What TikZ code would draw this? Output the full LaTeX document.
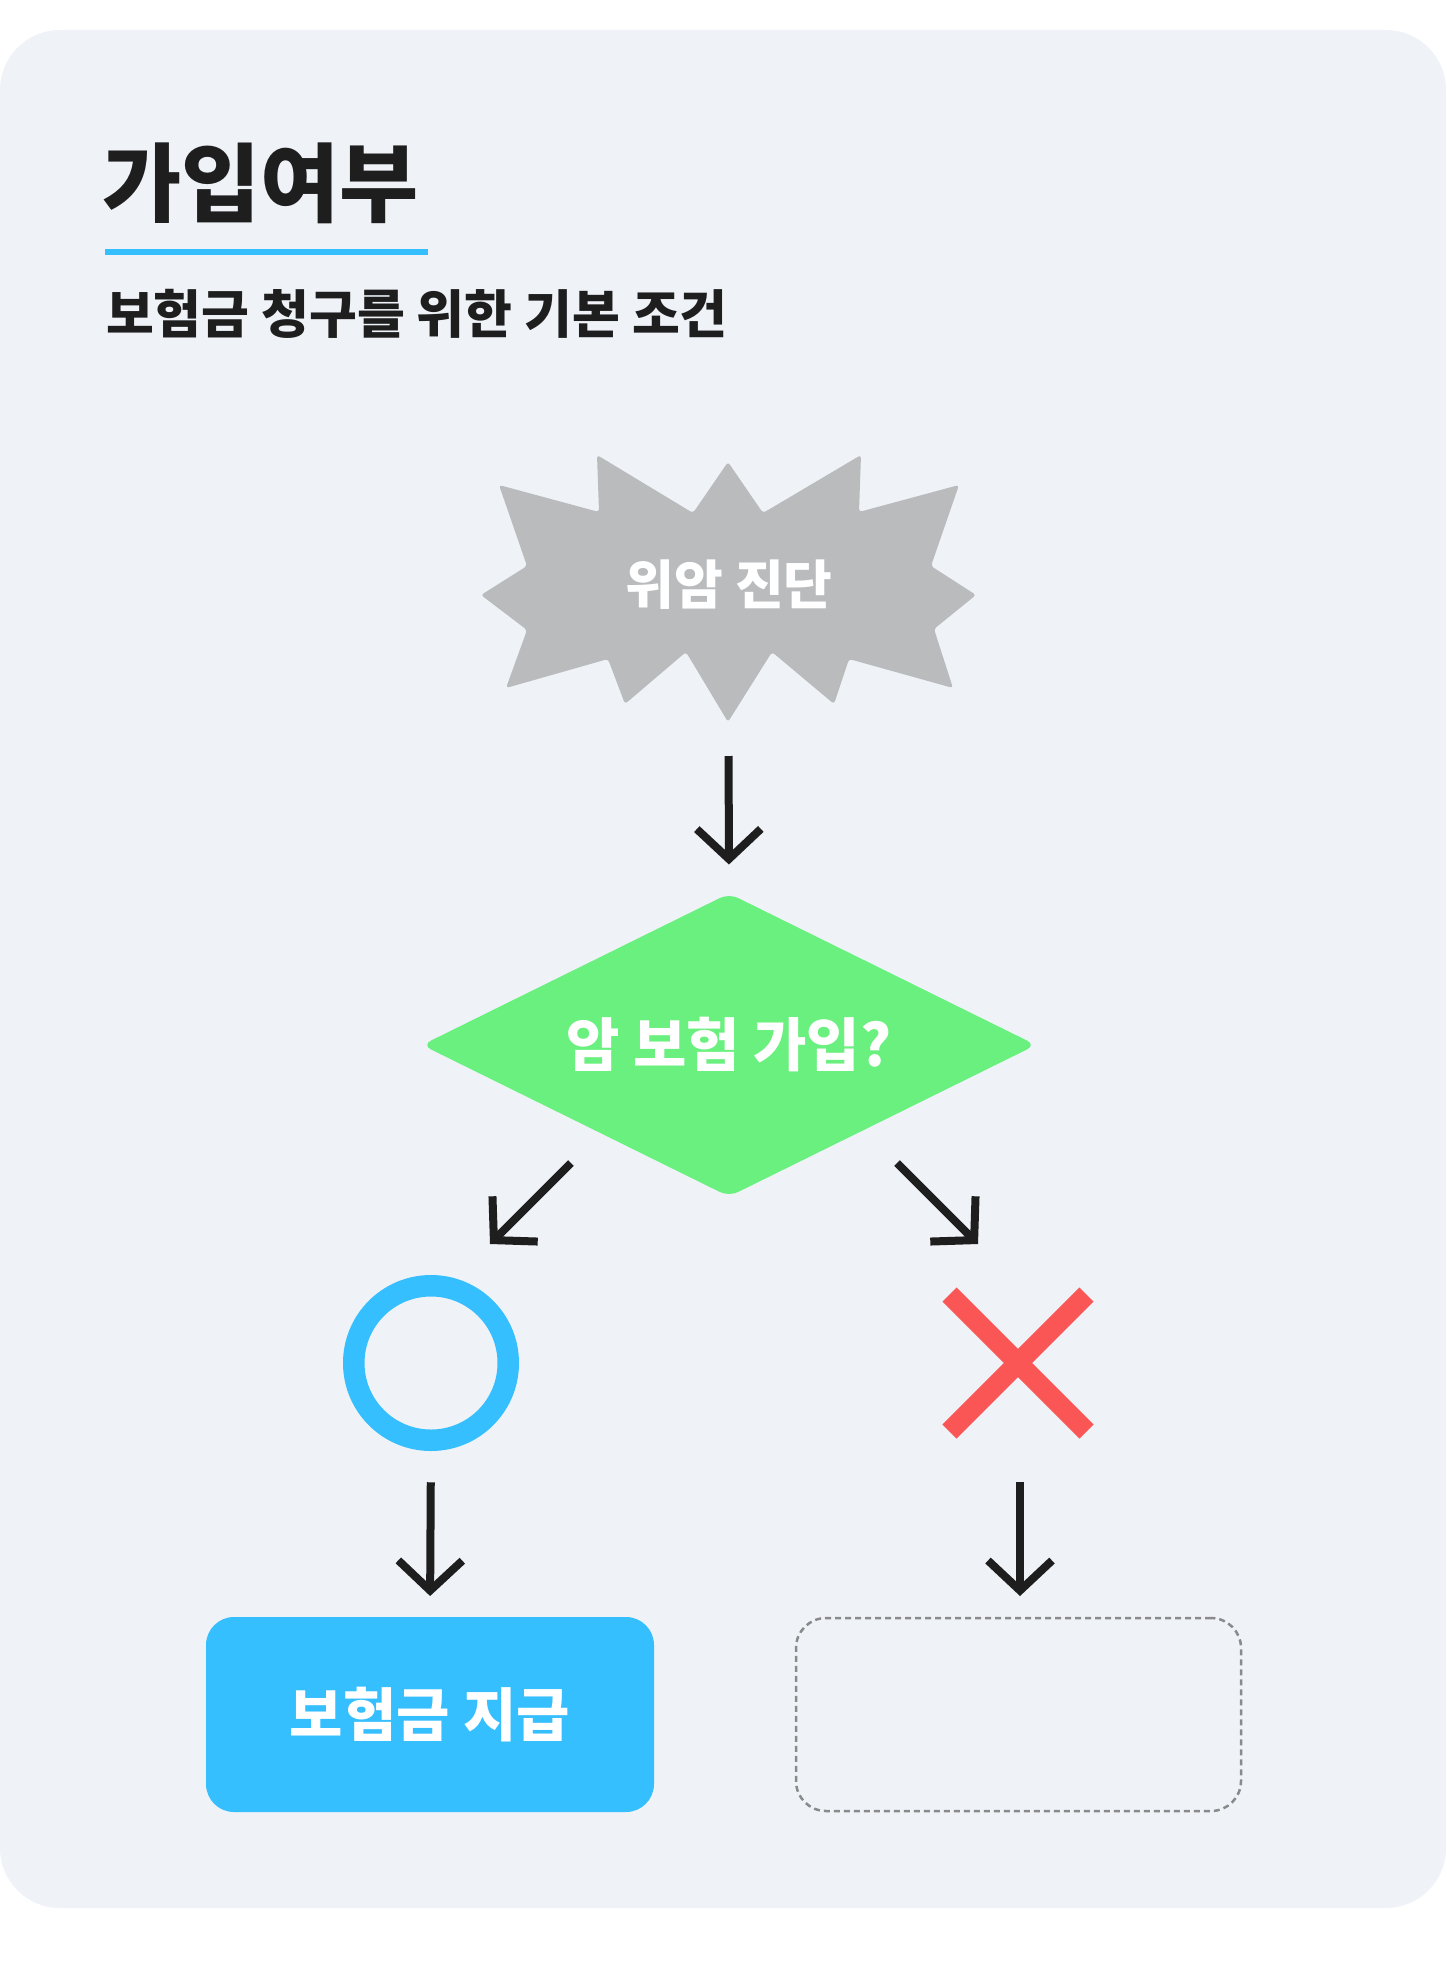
\documentclass[tikz,border=0pt]{standalone}
\usepackage{fontspec}
\usepackage{tikz}
\usetikzlibrary{shapes.geometric,arrows.meta,calc}
\newfontfamily\krfont{Noto Sans CJK KR}
\definecolor{cardbg}{RGB}{239,243,248}
\definecolor{inkblack}{RGB}{30,30,30}
\definecolor{skyblue}{RGB}{53,191,255}
\definecolor{burstgrey}{RGB}{185,187,189}
\definecolor{okgreen}{RGB}{106,240,127}
\definecolor{nored}{RGB}{250,86,86}
\definecolor{dashgrey}{RGB}{138,138,138}

\begin{document}
\begin{tikzpicture}[x=1pt,y=-1pt, every node/.style={inner sep=0pt,outer sep=0pt},
  ttl/.style={font=\krfont\bfseries\fontsize{86}{90}\selectfont,text=inkblack,anchor=west},
  sub/.style={font=\krfont\bfseries\fontsize{52}{58}\selectfont,text=inkblack,anchor=west},
  lbl/.style={font=\krfont\bfseries\fontsize{58}{64}\selectfont,text=white},
  burst/.style={minimum width=495pt,minimum height=267pt},
  ask/.style={diamond,aspect=2.03,fill=okgreen,minimum width=614pt,minimum height=303pt,
              rounded corners=10pt},
  ring/.style={circle,draw=skyblue,line width=21.5pt,minimum size=154.5pt},
  payout/.style={rectangle,fill=skyblue,rounded corners=28pt,minimum width=448pt,minimum height=195pt},
  empty/.style={rectangle,draw=dashgrey,line width=2.5pt,dash pattern=on 6pt off 4pt,
                rounded corners=30pt,minimum width=445pt,minimum height=193pt},
  cross/.style={nored,line width=20pt},
  ar/.style={-{Straight Barb[length=30pt,width=64pt]},inkblack,line width=8pt}]

\useasboundingbox (0,0) rectangle (1446,1983);
\fill[white] (0,0) rectangle (1446,1983);
\fill[cardbg,rounded corners=60pt] (0,30) rectangle (1446,1908);

\node[ttl] (title) at (102,183) {가입여부};
\draw[skyblue,line width=6pt] (105,252) -- (428,252);
\node[sub] (subtitle) at (106,314) {보험금 청구를 위한 기본 조건};

\fill[burstgrey,rounded corners=3pt] (499,485) -- (599,512) -- (597,455) -- (693,513)
  -- (728,462) -- (763,513) -- (861,455) -- (859,512) -- (959,485) -- (931,566)
  -- (976,595) -- (934,629) -- (953,688) -- (849,659) -- (834,704) -- (772,652)
  -- (728,722) -- (686,652) -- (625,704) -- (608,659) -- (506,688) -- (527,630)
  -- (481,595) -- (527,566) -- cycle;
\node[burst] (dx) at (728.5,588.5) {};
\node[lbl,font=\krfont\bfseries\fontsize{53}{58}\selectfont] (dxlabel) at (729,585) {위암 진단};

\node[ask,lbl] (join) at (729,1045) {암 보험 가입?};

\node[ring] (yes) at (431,1363) {};
\node[minimum size=137pt] (no) at (1018,1363) {};
\draw[cross] (no.north west) -- (no.south east) (no.north east) -- (no.south west);

\node[payout,lbl] (pay) at (430,1714.5) {보험금 지급};
\node[empty] (blank) at (1018.5,1714.5) {};

\coordinate (yesfrom) at (571,1163); \coordinate (yesto) at (490,1244);
\coordinate (nofrom) at (897,1163);  \coordinate (noto) at (978,1244);

\draw[ar,shorten <=34pt,shorten >=29pt] (dx.south) -- (join.north);
\draw[ar] (yesfrom) -- (yesto);
\draw[ar] (nofrom) -- (noto);
\draw[ar,shorten <=42pt,shorten >=21pt] (yes.south) -- (pay.north);
\draw[ar,shorten <=50pt,shorten >=22pt] ([xshift=2pt]no.south) -- ([xshift=1.5pt]blank.north);
\end{tikzpicture}
\end{document}
